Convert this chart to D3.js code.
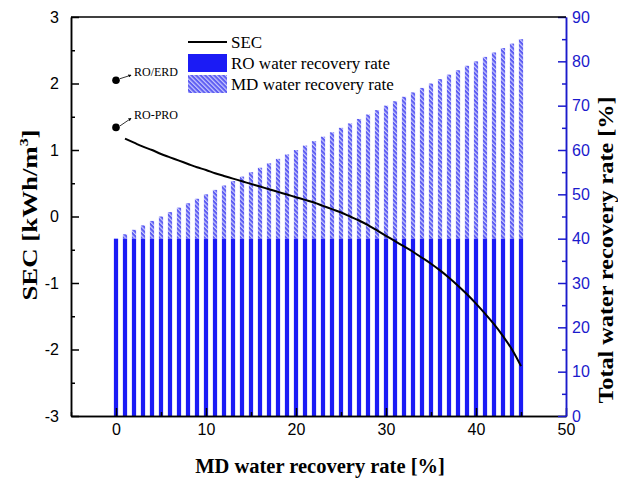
<!DOCTYPE html>
<html lang="en">
  <head>
    <meta charset="UTF-8" />
    <title>SEC and water recovery</title>
    <script src="https://d3js.org/d3.v7.min.js"></script>
    <style>
      body {
        margin: 0;
        background: #fff;
      }
      .tick text {
        font: 16px "Liberation Sans", Arial, sans-serif;
      }
      .serif {
        font-family: "Liberation Serif", "Times New Roman", serif;
      }
    </style>
  </head>
  <body>
    <svg width="618" height="479"></svg>

    <script>
      // MD water recovery rate, one bar per percent
      var mdRate = [0, 1, 2, 3, 4, 5, 6, 7, 8, 9, 10, 11, 12, 13, 14, 15, 16, 17, 18, 19, 20, 21, 22, 23,
        24, 25, 26, 27, 28, 29, 30, 31, 32, 33, 34, 35, 36, 37, 38, 39, 40, 41, 42, 43, 44, 45];
      var roRate = [40, 40, 40, 40, 40, 40, 40, 40, 40, 40, 40, 40, 40, 40, 40, 40, 40, 40, 40, 40, 40, 40,
        40, 40, 40, 40, 40, 40, 40, 40, 40, 40, 40, 40, 40, 40, 40, 40, 40, 40, 40, 40, 40, 40, 40, 40];
      var totalRate = [40, 41, 42, 43, 44, 45, 46, 47, 48, 49, 50, 51, 52, 53, 54, 55, 56, 57, 58, 59, 60,
        61, 62, 63, 64, 65, 66, 67, 68, 69, 70, 71, 72, 73, 74, 75, 76, 77, 78, 79, 80, 81, 82, 83, 84, 85];

      // SEC curve
      var secX = [1, 2, 3, 4, 5, 6, 7, 8, 9, 10, 11, 12, 13, 14, 15, 16, 17, 18, 19, 20, 21, 22, 23, 24,
        25, 26, 27, 28, 29, 30, 31, 32, 33, 34, 35, 36, 37, 38, 39, 40, 41, 42, 43, 44, 45];
      var secValues = [1.17, 1.11, 1.05, 1.0, 0.94, 0.89, 0.84, 0.79, 0.74, 0.7, 0.65, 0.61, 0.57, 0.53,
        0.49, 0.45, 0.41, 0.37, 0.33, 0.29, 0.25, 0.21, 0.16, 0.11, 0.06, 0.0, -0.06, -0.13, -0.21, -0.29,
        -0.37, -0.45, -0.53, -0.62, -0.71, -0.81, -0.92, -1.04, -1.17, -1.31, -1.46, -1.62, -1.8, -2.0, -2.25];

      // reference points at MD = 0
      var refLabels = ["RO/ERD", "RO-PRO"];
      var refSec = [2.05, 1.34];

      var xTicks = [0, 10, 20, 30, 40, 50];
      var leftTicks = [-3, -2, -1, 0, 1, 2, 3];
      var rightTicks = [0, 10, 20, 30, 40, 50, 60, 70, 80, 90];

      var svg = d3.select("svg");
      var pl = 71, pr = 566, pt = 17, pb = 416;
      var blue = "#1b1bf5", axisBlue = "#1a1acc";

      var x = d3.scaleLinear().domain([-5, 50]).range([pl, pr]);
      var yL = d3.scaleLinear().domain([-3, 3]).range([pb, pt]);
      var yR = d3.scaleLinear().domain([0, 90]).range([pb, pt]);

      var defs = svg.append("defs");
      var pat = defs
        .append("pattern")
        .attr("id", "hatch")
        .attr("patternUnits", "userSpaceOnUse")
        .attr("width", 3.2)
        .attr("height", 3.2)
        .attr("patternTransform", "rotate(-45)");
      pat.append("rect").attr("width", 3.2).attr("height", 3.2).attr("fill", "#5d5df2");
      pat
        .append("line")
        .attr("x1", 0.6).attr("y1", 0).attr("x2", 0.6).attr("y2", 3.2)
        .attr("stroke", "#d4d4ff")
        .attr("stroke-width", 1.1);

      var bw = x(0.47) - x(0);

      // MD part (hatched) from RO top to total
      svg
        .selectAll(".md")
        .data(mdRate)
        .enter()
        .append("rect")
        .attr("class", "md")
        .attr("x", function (d) { return x(d) - bw / 2; })
        .attr("width", bw)
        .attr("y", function (d, i) { return yR(totalRate[i]); })
        .attr("height", function (d, i) { return yR(roRate[i]) - yR(totalRate[i]); })
        .attr("fill", "url(#hatch)");

      svg
        .selectAll(".ro")
        .data(mdRate)
        .enter()
        .append("rect")
        .attr("class", "ro")
        .attr("x", function (d) { return x(d) - bw / 2; })
        .attr("width", bw)
        .attr("y", function (d, i) { return yR(roRate[i]); })
        .attr("height", function (d, i) { return yR(0) - yR(roRate[i]); })
        .attr("fill", blue);

      // SEC line
      var line = d3
        .line()
        .x(function (d, i) { return x(secX[i]); })
        .y(function (d) { return yL(d); })
        .curve(d3.curveMonotoneX);

      svg
        .append("path")
        .datum(secValues)
        .attr("d", line)
        .attr("fill", "none")
        .attr("stroke", "#000")
        .attr("stroke-width", 2);

      // reference dots with little arrows
      defs
        .append("marker")
        .attr("id", "arr")
        .attr("viewBox", "0 0 6 6")
        .attr("refX", 5).attr("refY", 3)
        .attr("markerWidth", 4).attr("markerHeight", 4)
        .attr("orient", "auto")
        .append("path")
        .attr("d", "M0,0L6,3L0,6Z")
        .attr("fill", "#000");

      refSec.forEach(function (v, i) {
        var cx = x(0), cy = yL(v);
        var rise = i === 0 ? 5 : 9; // RO-PRO label sits a bit higher
        svg.append("circle").attr("cx", cx).attr("cy", cy).attr("r", 3.8).attr("fill", "#000");
        svg
          .append("line")
          .attr("x1", cx + 4).attr("y1", cy - 1.5)
          .attr("x2", cx + 15).attr("y2", cy - rise)
          .attr("stroke", "#000")
          .attr("stroke-width", 0.8)
          .attr("marker-end", "url(#arr)");
        svg
          .append("text")
          .attr("class", "serif")
          .attr("x", cx + 18)
          .attr("y", cy - rise + 1)
          .attr("font-size", 12)
          .text(refLabels[i]);
      });

      // axes
      var gx = svg.append("g").attr("transform", "translate(0," + pb + ")");
      gx.call(d3.axisBottom(x).tickValues(xTicks).tickSize(-8).tickSizeOuter(0).tickPadding(8));
      svg
        .append("g")
        .attr("transform", "translate(0," + pb + ")")
        .call(d3.axisBottom(x).tickValues([-5, 5, 15, 25, 35, 45]).tickSize(-4).tickSizeOuter(0).tickFormat(""));

      var gl = svg.append("g").attr("transform", "translate(" + pl + ",0)");
      gl.call(
        d3.axisLeft(yL).tickValues(leftTicks).tickSize(-8).tickSizeOuter(0).tickPadding(12)
          .tickFormat(function (d) { return String(d); })
      );
      svg
        .append("g")
        .attr("transform", "translate(" + pl + ",0)")
        .call(d3.axisLeft(yL).tickValues([-2.5, -1.5, -0.5, 0.5, 1.5, 2.5]).tickSize(-4).tickSizeOuter(0).tickFormat(""));

      var gr = svg.append("g").attr("transform", "translate(" + pr + ",0)");
      gr.call(d3.axisRight(yR).tickValues(rightTicks).tickSize(-8).tickSizeOuter(0).tickPadding(6));
      var grm = svg.append("g").attr("transform", "translate(" + pr + ",0)");
      grm.call(d3.axisRight(yR).tickValues([5, 15, 25, 35, 45, 55, 65, 75, 85]).tickSize(-4).tickSizeOuter(0).tickFormat(""));

      svg.selectAll(".domain, .tick line").attr("stroke-width", 1.5);
      gr.selectAll("path, line").attr("stroke", axisBlue);
      grm.selectAll("path, line").attr("stroke", axisBlue);
      gr.selectAll("text").attr("fill", axisBlue);

      // top frame line
      svg
        .append("line")
        .attr("x1", pl).attr("x2", pr)
        .attr("y1", pt).attr("y2", pt)
        .attr("stroke", "#000")
        .attr("stroke-width", 1.5);

      // axis titles (the original figure is a little stretched vertically)
      var ylab = svg
        .append("text")
        .attr("class", "serif")
        .attr("transform", "translate(37,215) rotate(-90) scale(1.22,1)")
        .attr("text-anchor", "middle")
        .attr("font-size", 22)
        .attr("font-weight", "bold");
      ylab.append("tspan").text("SEC [kWh/m");
      ylab.append("tspan").attr("font-size", 13).attr("dy", -9).text("3");
      ylab.append("tspan").attr("dy", 9).text("]");

      svg
        .append("text")
        .attr("class", "serif")
        .attr("x", 320)
        .attr("y", 473)
        .attr("text-anchor", "middle")
        .attr("font-size", 20.5)
        .attr("font-weight", "bold")
        .text("MD water recovery rate [%]");

      svg
        .append("text")
        .attr("class", "serif")
        .attr("transform", "translate(613,250) rotate(-90) scale(1.1,1)")
        .attr("text-anchor", "middle")
        .attr("font-size", 22)
        .attr("font-weight", "bold")
        .text("Total water recovery rate [%]");

      // legend
      var lg = svg.append("g").attr("class", "serif").attr("font-size", 17);
      lg.append("line")
        .attr("x1", 188).attr("x2", 227).attr("y1", 42).attr("y2", 42)
        .attr("stroke", "#000").attr("stroke-width", 2);
      lg.append("text").attr("x", 231).attr("y", 48).text("SEC");
      lg.append("rect").attr("x", 188).attr("y", 54).attr("width", 39).attr("height", 18).attr("fill", blue);
      lg.append("text").attr("x", 231).attr("y", 69).text("RO water recovery rate");
      lg.append("rect").attr("x", 188).attr("y", 75).attr("width", 39).attr("height", 18).attr("fill", "url(#hatch)");
      lg.append("text").attr("x", 231).attr("y", 90).text("MD water recovery rate");
    </script>
  </body>
</html>
